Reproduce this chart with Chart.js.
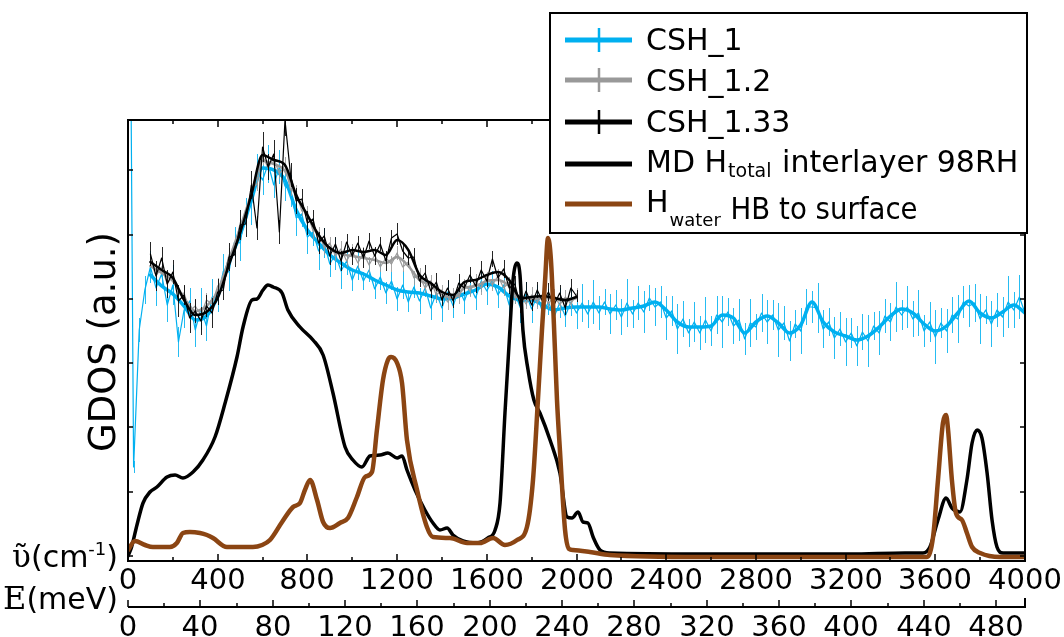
<!DOCTYPE html>
<html>
<head>
<meta charset="utf-8">
<script src="https://cdn.jsdelivr.net/npm/chart.js@4.4.1/dist/chart.umd.min.js"></script>
<style>
  html, body { margin: 0; padding: 0; background: #fff; }
  canvas { display: block; }
</style>
</head>
<body>
<canvas id="gdos" width="1064" height="637"></canvas>
<script>
// ---- spectra (GDOS in arbitrary units, wavenumber in cm-1) ----
const CM_PER_MEV = 8.0655;
const GDOS_TICK = 64.3;

// CSH_1 measured spectrum, 0..4000 cm-1 every 25 cm-1
const csh1Start = 0, csh1Step = 25;
const csh1Raw = [900, 89, 226, 266, 289, 268, 282, 251, 271, 214, 246, 255, 226, 247, 230, 259, 258, 285, 284, 314,
  313, 344, 351, 386, 376, 392, 371, 389, 370, 365, 338, 342, 319, 324, 305, 313, 292, 302, 285, 295,
  276, 290, 275, 286, 267, 279, 263, 275, 257, 271, 254, 269, 255, 268, 248, 263, 248, 264, 250, 267,
  255, 270, 258, 275, 265, 276, 261, 271, 251, 263, 248, 262, 247, 260, 243, 254, 239, 253, 240, 254,
  243, 253, 242, 254, 243, 254, 242, 251, 239, 253, 242, 253, 244, 258, 249, 254, 238, 245, 227, 237,
  223, 234, 223, 236, 225, 241, 234, 244, 230, 236, 217, 233, 229, 243, 234, 241, 226, 233, 215, 232,
  225, 249, 249, 248, 227, 234, 218, 227, 214, 223, 210, 224, 215, 230, 223, 240, 234, 249, 241, 249,
  237, 243, 225, 234, 219, 233, 225, 241, 237, 254, 250, 253, 237, 246, 232, 246, 239, 254, 246, 259, 243];
const csh1Err = [0, 6, 12, 14, 16, 18, 13, 17, 20, 15, 18, 13, 17, 21, 15, 18, 14, 17, 19, 15,
  18, 14, 20, 16, 15, 19, 13, 17, 15, 16, 18, 13, 17, 14, 19, 15, 13, 16, 18, 14,
  11, 14, 9, 12, 10, 13, 11, 9, 12, 14, 10, 11, 13, 9, 12, 10, 14, 11, 12, 9,
  13, 10, 12, 11, 14, 9, 13, 10, 12, 11, 15, 12, 14, 11, 16, 13, 12, 15, 11, 14,
  16, 19, 14, 22, 17, 13, 20, 15, 18, 24, 14, 17, 21, 13, 19, 16, 22, 15, 25, 18,
  14, 20, 17, 23, 15, 19, 26, 14, 18, 21, 16, 24, 13, 19, 22, 15, 27, 17, 20, 14,
  23, 18, 16, 25, 19, 14, 21, 17, 24, 15, 20, 18, 26, 14, 22, 17, 19, 25, 15, 21,
  18, 23, 16, 20, 27, 15, 22, 18, 24, 16, 21, 19, 25, 14, 23, 17, 20, 26, 18, 22, 28];
// CSH_1 smoothed trace, 100..4000 cm-1 every 50 cm-1
const csh1SmoothStart = 100, smoothStep = 50;
const csh1Smooth = [281, 270, 262, 250, 236, 240, 260, 294, 321, 356, 388, 386, 376, 346, 326, 313, 301, 293, 286, 282,
  276, 271, 266, 264, 263, 260, 257, 258, 262, 266, 272, 269, 260, 256, 256, 251, 246, 248, 249, 249,
  249, 247, 246, 248, 250, 254, 246, 234, 229, 229, 230, 241, 238, 223, 234, 240, 233, 223, 231, 254,
  234, 224, 220, 216, 220, 229, 240, 247, 243, 232, 225, 230, 243, 255, 243, 238, 244, 251, 243];

// CSH_1.2 and CSH_1.33, 100..2000 cm-1
const cshStart = 100, cshStep = 25;
const csh12Raw = [296, 280, 289, 272, 281, 262, 263, 245, 250, 241, 256, 252, 270, 275, 301, 306, 333, 339, 367, 372,
  400, 388, 398, 382, 391, 366, 364, 345, 344, 325, 324, 308, 313, 300, 307, 295, 305, 293, 303, 291,
  301, 289, 298, 292, 303, 289, 294, 278, 280, 268, 275, 261, 266, 254, 262, 259, 272, 265, 274, 268,
  279, 271, 280, 268, 274, 258, 261, 252, 261, 253, 262, 252, 261, 251, 259, 252, 262];
const csh12Err = [5, 7, 6, 8, 5, 6, 7, 8, 6, 5, 7, 6, 8, 5, 7, 6, 5, 8, 6, 7,
  9, 6, 7, 5, 8, 6, 7, 5, 6, 8, 5, 7, 6, 5, 8, 6, 7, 5, 6, 8,
  7, 5, 6, 8, 7, 5, 6, 7, 8, 5, 6, 7, 5, 8, 6, 7, 5, 6, 8, 7,
  5, 6, 7, 8, 5, 6, 7, 5, 8, 6, 7, 5, 6, 8, 7, 5, 6];
const csh12Smooth = [290, 283, 275, 258, 245, 250, 265, 296, 328, 362, 395, 392, 385, 360, 340, 320, 308, 302, 300, 298,
  296, 293, 299, 290, 276, 271, 262, 258, 268, 270, 275, 276, 270, 257, 257, 258, 257, 255, 258];

const csh133Raw = [302, 280, 298, 272, 284, 255, 261, 238, 245, 235, 250, 243, 264, 266, 299, 301, 331, 332, 371, 328,
  409, 389, 402, 324, 436, 381, 355, 357, 333, 337, 313, 320, 300, 312, 295, 314, 300, 313, 298, 315,
  300, 312, 295, 318, 322, 305, 298, 299, 275, 283, 265, 274, 256, 268, 255, 273, 268, 281, 270, 286,
  275, 297, 278, 287, 268, 272, 250, 265, 251, 266, 254, 264, 251, 263, 248, 268, 260];
const csh133Err = [12, 15, 11, 14, 12, 16, 10, 15, 12, 14, 11, 15, 13, 10, 14, 12, 15, 13, 14, 12,
  15, 13, 14, 12, 16, 12, 13, 10, 12, 9, 11, 8, 9, 7, 10, 8, 9, 7, 10, 8,
  9, 7, 10, 8, 11, 8, 7, 9, 6, 8, 7, 9, 6, 8, 7, 9, 6, 8, 7, 9,
  6, 8, 7, 9, 6, 8, 7, 9, 6, 8, 7, 9, 6, 8, 7, 9, 6];
const csh133Smooth = [294, 286, 278, 256, 241, 244, 258, 291, 323, 361, 401, 396, 391, 361, 341, 321, 308, 303, 306, 304,
  306, 301, 316, 306, 281, 273, 264, 261, 274, 276, 281, 284, 276, 258, 259, 260, 258, 256, 259];

// MD: total interlayer H, 98 % RH
const mdCm = [0, 16, 40, 67, 98, 129, 174, 210, 245, 290, 334, 388, 433, 486, 513, 553, 575, 602, 624, 647,
  687, 713, 767, 825, 870, 914, 968, 1003, 1043, 1079, 1124, 1159, 1200, 1222, 1244, 1280, 1324, 1360, 1391, 1423,
  1449, 1494, 1556, 1605, 1637, 1659, 1681, 1703, 1717, 1735, 1748, 1761, 1784, 1810, 1837, 1882, 1926, 1958, 1980, 2007,
  2029, 2051, 2074, 2105, 2149, 2551, 3220, 3465, 3545, 3576, 3612, 3648, 3674, 3710, 3741, 3764, 3786, 3808, 3831, 3853,
  3875, 3902, 4000];
const mdGdos = [0, 9, 31, 53, 64, 69, 79, 81, 78, 84, 96, 119, 153, 199, 229, 256, 257, 266, 271, 269,
  263, 246, 229, 216, 201, 163, 109, 96, 89, 100, 101, 103, 98, 100, 86, 66, 46, 33, 26, 28,
  21, 15, 13, 18, 26, 53, 143, 226, 276, 293, 281, 226, 186, 156, 143, 116, 83, 39, 38, 44,
  34, 33, 19, 6, 3, 2, 2, 3, 3, 9, 36, 58, 48, 44, 76, 113, 126, 118, 83, 36,
  9, 3, 3];

// MD: water H hydrogen-bonded to the surface
const hbCm = [0, 31, 76, 111, 187, 218, 245, 276, 321, 352, 379, 441, 513, 557, 598, 633, 687, 736, 767, 789,
  812, 843, 870, 901, 945, 981, 1021, 1057, 1088, 1110, 1137, 1159, 1173, 1200, 1222, 1244, 1289, 1333, 1360, 1436,
  1512, 1570, 1628, 1681, 1735, 1779, 1806, 1828, 1846, 1860, 1873, 1886, 1904, 1913, 1926, 1949, 1967, 1984, 2060, 2149,
  2551, 3563, 3590, 3612, 3634, 3648, 3657, 3674, 3692, 3719, 3741, 3764, 3800, 3889, 4000];
const hbGdos = [6, 15, 11, 9, 9, 13, 23, 24, 23, 21, 18, 9, 9, 9, 11, 16, 34, 49, 53, 66,
  76, 56, 34, 28, 33, 38, 59, 79, 84, 126, 176, 196, 199, 193, 173, 116, 66, 29, 19, 18,
  13, 13, 18, 11, 16, 29, 76, 156, 226, 276, 318, 296, 206, 156, 106, 26, 7, 6, 4, 1,
  -1, -1, 19, 76, 133, 141, 126, 76, 43, 36, 23, 9, 3, -1, -1];

// ---- colours ----
const CYAN = '#00B0F0', GREY = '#999999', BLACK = '#000000', BROWN = '#8B4513';
const FONT = "'DejaVu Sans', Verdana, sans-serif";
const SERIF = "'DejaVu Serif', 'Liberation Serif', serif";

const onGrid = (start, step, vals) => vals.map((v, i) => ({ x: start + i * step, y: v }));
const pairs = (xs, ys) => xs.map((x, i) => ({ x, y: ys[i] }));

const thin = (label, color, data, errors, order) => ({
  label, data, errors, order, borderColor: color, borderWidth: 1.2, tension: 0, fill: false
});
const thick = (label, color, data, width, order) => ({
  label, data, order, borderColor: color, borderWidth: width, cubicInterpolationMode: 'monotone', fill: false
});

const datasets = [
  thick('H_water HB to surface', BROWN, pairs(hbCm, hbGdos), 4.5, 0),
  thick('MD H_total interlayer 98RH', BLACK, pairs(mdCm, mdGdos), 3.5, 1),
  thick('CSH_1.33', BLACK, onGrid(cshStart, smoothStep, csh133Smooth), 2.5, 2),
  thin('CSH_1.33', BLACK, onGrid(cshStart, cshStep, csh133Raw), csh133Err, 3),
  thick('CSH_1.2', GREY, onGrid(cshStart, smoothStep, csh12Smooth), 2.5, 4),
  thin('CSH_1.2', GREY, onGrid(cshStart, cshStep, csh12Raw), csh12Err, 5),
  thick('CSH_1', CYAN, onGrid(csh1SmoothStart, smoothStep, csh1Smooth), 3.5, 6),
  thin('CSH_1', CYAN, onGrid(csh1Start, csh1Step, csh1Raw), csh1Err, 7)
];

// legend rows: [colour, line width, error-bar cross, text runs]
// text run kinds: 0 normal, 1 subscript, 2 raised base letter, 3 low subscript
const legendRows = [
  [CYAN, 5, true, [['CSH_1', 0]]],
  [GREY, 5, true, [['CSH_1.2', 0]]],
  [BLACK, 5, true, [['CSH_1.33', 0]]],
  [BLACK, 5, false, [['MD H', 0], ['total', 1], [' interlayer 98RH', 0]]],
  [BROWN, 5, false, [['H', 2], ['water', 3], [' HB to surface', 0, 0.92]]]
];

const onStep = (v, step) => Math.abs(v / step - Math.round(v / step)) < 1e-6;

const decor = {
  id: 'decor',
  beforeDatasetDraw(chart, args) {
    const ds = chart.data.datasets[args.index];
    if (!ds.errors) return;
    const { ctx, chartArea: a } = chart;
    const xs = chart.scales.x, ys = chart.scales.y;
    ctx.save();
    ctx.beginPath();
    ctx.rect(a.left, a.top, a.right - a.left, a.bottom - a.top);
    ctx.clip();
    ctx.strokeStyle = ds.borderColor;
    ctx.globalAlpha = 0.85;
    ctx.lineWidth = 1;
    ctx.beginPath();
    ds.data.forEach((p, i) => {
      const e = ds.errors[i];
      if (!e) return;
      const px = Math.round(xs.getPixelForValue(p.x)) + 0.5;
      ctx.moveTo(px, ys.getPixelForValue(p.y - e));
      ctx.lineTo(px, ys.getPixelForValue(p.y + e));
    });
    ctx.stroke();
    ctx.restore();
  },
  afterDraw(chart) {
    const { ctx, chartArea: a } = chart;
    const xs = chart.scales.x, xe = chart.scales.xE, ys = chart.scales.y;
    ctx.save();
    ctx.strokeStyle = '#000';
    ctx.fillStyle = '#000';

    // frame
    ctx.lineWidth = 2;
    ctx.strokeRect(a.left, a.top, a.right - a.left, a.bottom - a.top);

    // wavenumber ticks (bottom and top), labels every 400 cm-1
    ctx.lineWidth = 1.5;
    ctx.font = '29px ' + FONT;
    ctx.textAlign = 'center';
    ctx.textBaseline = 'alphabetic';
    xs.ticks.forEach(t => {
      if (!onStep(t.value, 100)) return;
      const v = Math.round(t.value);
      const px = Math.round(xs.getPixelForValue(v));
      const major = v % 400 === 0;
      const len = major ? 7 : 4;
      ctx.beginPath();
      ctx.moveTo(px, a.bottom); ctx.lineTo(px, a.bottom - len);
      ctx.moveTo(px, a.top); ctx.lineTo(px, a.top + len);
      ctx.stroke();
      if (major) ctx.fillText(String(v), px, 589);
    });

    // GDOS ticks (left and right, no labels)
    ys.ticks.forEach(t => {
      if (t.value < 0 || !onStep(t.value, GDOS_TICK)) return;
      const py = Math.round(ys.getPixelForValue(t.value));
      ctx.beginPath();
      ctx.moveTo(a.left, py); ctx.lineTo(a.left + 5, py);
      ctx.moveTo(a.right, py); ctx.lineTo(a.right - 5, py);
      ctx.stroke();
    });

    // energy axis (meV) below
    const eY = 607;
    ctx.lineWidth = 2;
    ctx.beginPath();
    ctx.moveTo(a.left, eY); ctx.lineTo(a.right + 1, eY);
    ctx.moveTo(a.right, eY); ctx.lineTo(a.right, eY - 9);
    ctx.stroke();
    ctx.lineWidth = 1.5;
    xe.ticks.forEach(t => {
      if (!onStep(t.value, 20)) return;
      const v = Math.round(t.value);
      const px = Math.round(xe.getPixelForValue(v));
      const major = v % 40 === 0;
      ctx.beginPath();
      ctx.moveTo(px, eY); ctx.lineTo(px, eY - (major ? 7 : 4));
      ctx.stroke();
      if (major) ctx.fillText(String(v), px, 636);
    });

    // axis names on the left
    ctx.textAlign = 'left';
    const rightEdge = 118;
    const runsCm = [['ῦ', '31px ' + SERIF, 0], ['(cm', '30px ' + FONT, 0], ['-1', '18px ' + FONT, -12], [')', '30px ' + FONT, 0]];
    const runsE = [['E', '32px ' + SERIF, 0], ['(meV)', '30px ' + FONT, 0]];
    const drawRuns = (runs, baseline) => {
      let w = 0;
      runs.forEach(r => { ctx.font = r[1]; w += ctx.measureText(r[0]).width; });
      let x = rightEdge - w;
      runs.forEach(r => { ctx.font = r[1]; ctx.fillText(r[0], x, baseline + r[2]); x += ctx.measureText(r[0]).width; });
    };
    drawRuns(runsCm, 567);
    drawRuns(runsE, 609);

    // y title
    ctx.save();
    ctx.translate(105, 342);
    ctx.rotate(-Math.PI / 2);
    ctx.textAlign = 'center';
    ctx.textBaseline = 'middle';
    ctx.font = '37px ' + FONT;
    ctx.fillText('GDOS (a.u.)', 0, 0);
    ctx.restore();

    // legend box
    const L = 550, T = 13, R = 1027, B = 233;
    ctx.fillStyle = '#fff';
    ctx.fillRect(L, T, R - L, B - T);
    ctx.lineWidth = 2;
    ctx.strokeStyle = '#000';
    ctx.strokeRect(L, T, R - L, B - T);
    const rowY = [40, 80, 122, 164, 204];
    const baseY = [50, 91, 132, 172, 219];
    legendRows.forEach((row, i) => {
      const [color, w, cross, runs] = row;
      const y = rowY[i];
      ctx.strokeStyle = color;
      ctx.lineWidth = w;
      ctx.lineCap = 'butt';
      ctx.beginPath();
      ctx.moveTo(565, y); ctx.lineTo(632, y);
      ctx.stroke();
      if (cross) {
        ctx.lineWidth = 2.5;
        ctx.beginPath();
        ctx.moveTo(599, y - 12); ctx.lineTo(599, y + 12);
        ctx.stroke();
      }
      ctx.fillStyle = '#000';
      let x = 646;
      runs.forEach(([txt, kind, squeeze]) => {
        if (kind === 0) {
          ctx.font = '30px ' + FONT;
          const mw = ctx.measureText(txt).width * (squeeze || 1);
          ctx.fillText(txt, x, baseY[i], mw);
          x += mw;
        } else if (kind === 1) {
          ctx.font = '19px ' + FONT;
          const mw = ctx.measureText(txt).width;
          ctx.fillText(txt, x + 1, baseY[i] + 5);
          x += mw + 2;
        } else if (kind === 2) {
          ctx.font = '30px ' + FONT;
          const mw = ctx.measureText(txt).width;
          ctx.fillText(txt, x, baseY[i] - 7);
          x += mw;
        } else {
          ctx.font = '18px ' + FONT;
          const mw = ctx.measureText(txt).width;
          ctx.fillText(txt, x + 1, baseY[i] + 7);
          x += mw + 2;
        }
      });
    });
    ctx.restore();
  }
};

new Chart(document.getElementById('gdos'), {
  type: 'line',
  data: { datasets },
  options: {
    responsive: false,
    animation: false,
    devicePixelRatio: 1,
    layout: { padding: { left: 128, right: 39, top: 120, bottom: 76 } },
    plugins: { legend: { display: false }, tooltip: { enabled: false } },
    elements: {
      point: { radius: 0, hoverRadius: 0 },
      line: { borderJoinStyle: 'round', borderCapStyle: 'round' }
    },
    scales: {
      x: { type: 'linear', position: 'bottom', min: 0, max: 4000, display: false,
           ticks: { stepSize: 100, maxTicksLimit: 1000, includeBounds: false } },
      xE: { type: 'linear', axis: 'x', position: 'bottom', min: 0, max: 4000 / CM_PER_MEV, display: false,
            ticks: { stepSize: 20, maxTicksLimit: 1000, includeBounds: false } },
      y: { type: 'linear', min: -5, max: 436, display: false,
           ticks: { stepSize: GDOS_TICK, maxTicksLimit: 1000, includeBounds: false } }
    }
  },
  plugins: [decor]
});
</script>
</body>
</html>
